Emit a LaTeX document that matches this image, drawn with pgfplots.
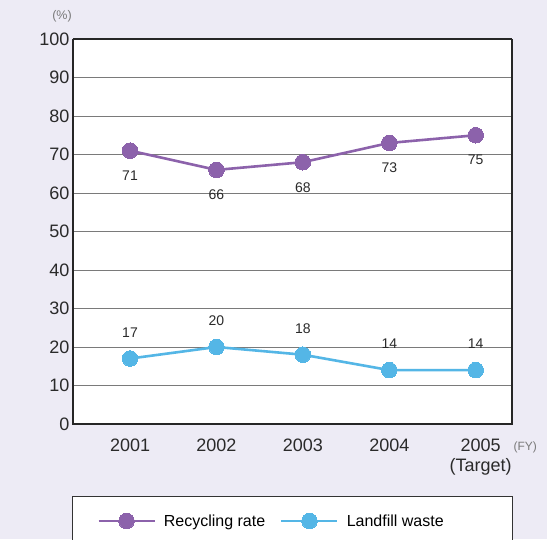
\documentclass[border=0pt]{standalone}
\usepackage{pgfplots}
\pgfplotsset{compat=1.18}
\usepackage{fontspec}
\setmainfont{Liberation Sans}

\definecolor{pagebg}{HTML}{EDEBF5}
\definecolor{recycle}{HTML}{8C62AB}
\definecolor{landfill}{HTML}{54B6E6}
\definecolor{gridgray}{HTML}{7A7A7A}
\definecolor{labeltext}{HTML}{2A2A2A}

\pgfplotstableread{
idx rate
0 71
1 66
2 68
3 73
4 75
}\recyclingrate

\pgfplotstableread{
idx waste
0 17
1 20
2 18
3 14
4 14
}\landfillwaste

\begin{document}
\begin{tikzpicture}
\useasboundingbox (0pt,0pt) rectangle (547pt,539pt);
\fill[pagebg] (0pt,0pt) rectangle (547pt,539pt);
% frame around the legend
\filldraw[fill=white, draw=black!80, line width=0.9pt] (72pt,-20pt) rectangle (512pt,43pt);
\begin{axis}[
  at={(73pt,115pt)}, anchor=south west,
  scale only axis, width=439pt, height=385pt,
  xmin=-0.66, xmax=4.42, ymin=0, ymax=100,
  ytick={0,10,...,100},
  xtick={0,1,2,3,4},
  xticklabels={2001,2002,2003,2004,{\hspace*{10pt}2005\\\hspace*{10pt}(Target)}},
  xticklabel style={align=center, font=\fontsize{18}{20}\selectfont, text=labeltext, yshift=-11pt},
  yticklabel style={font=\fontsize{18}{20}\selectfont, text=labeltext},
  /pgf/number format/assume math mode=true,
  major tick length=0pt,
  axis line style={draw=none},
  axis background/.style={fill=white},
  ymajorgrids, grid style={gridgray, line width=1pt},
  clip=false,
  nodes near coords,
  every node near coord/.append style={font=\fontsize{14}{16}\selectfont, text=labeltext, anchor=center},
  legend style={at={(0.0547,-0.252)}, anchor=west, draw=none, fill=none, inner sep=0pt,
    font=\fontsize{16}{18}\selectfont, column sep=0pt},
  legend columns=2,
  /tikz/every odd column/.append style={column sep=6pt},
  /tikz/every even column/.append style={column sep=13pt},
  legend image code/.code={\draw[#1, mark repeat=2, mark phase=2] plot coordinates {(0pt,0pt) (28pt,0pt) (56pt,0pt)};},
]
\addplot[recycle, line width=2.6pt, mark=*, mark size=7.8pt, mark options={fill=recycle, draw=recycle, line width=0pt},
  every node near coord/.append style={yshift=-25pt}]
  table[x=idx, y=rate] {\recyclingrate};
\addlegendentry{Recycling rate}
\addplot[landfill, line width=2.6pt, mark=*, mark size=7.8pt, mark options={fill=landfill, draw=landfill, line width=0pt},
  every node near coord/.append style={yshift=26pt}]
  table[x=idx, y=waste] {\landfillwaste};
\addlegendentry{Landfill waste}
% frame of the plot area
\draw[black!85, line width=1.2pt] (rel axis cs:0,1) -- (rel axis cs:1,1);
\draw[black!85, line width=2.4pt] (rel axis cs:0,1) -- (rel axis cs:0,0) -- (rel axis cs:1,0) -- (rel axis cs:1,1);
\node[anchor=west, text=gridgray, font=\fontsize{12}{14}\selectfont] at (rel axis cs:1,0) [xshift=-2pt, yshift=-23pt] {(FY)};
\node[text=gridgray, font=\fontsize{12.5}{14}\selectfont] at (rel axis cs:0,1) [xshift=-11pt, yshift=23pt] {(\%)};
\end{axis}
\end{tikzpicture}
\end{document}
